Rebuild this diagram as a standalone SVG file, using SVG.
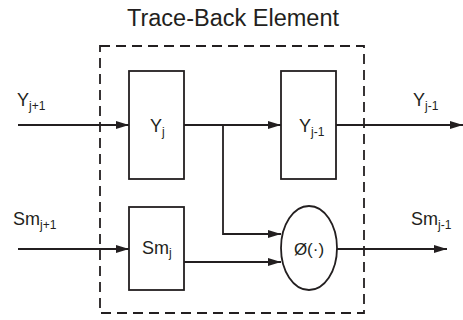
<svg xmlns="http://www.w3.org/2000/svg" width="463" height="320" viewBox="0 0 463 320">
<defs>
<marker id="ah" markerWidth="13" markerHeight="8" refX="13" refY="4" orient="auto" markerUnits="userSpaceOnUse">
<path d="M0,0 L13,4 L0,8 Z" fill="#231f20"/>
</marker>
<style>
.t{font-family:"Liberation Sans",Arial,sans-serif;fill:#231f20}
.lbl{font-size:18px}
.sub{font-size:12px}
.box{fill:#fff;stroke:#231f20;stroke-width:1.8}
.ln{fill:none;stroke:#231f20;stroke-width:1.8}
.arr{fill:none;stroke:#231f20;stroke-width:1.8;marker-end:url(#ah)}
</style>
</defs>
<rect width="463" height="320" fill="#fff"/>
<text class="t" x="233" y="26" font-size="23.5" text-anchor="middle">Trace-Back Element</text>
<g id="boundary">
<rect x="100" y="46" width="264" height="267" fill="none" stroke="#231f20" stroke-width="1.8" stroke-dasharray="10,6"/>
</g>
<g id="connectors">
<line class="arr" x1="18" y1="125" x2="129" y2="125"/>
<line class="arr" x1="184" y1="125" x2="281" y2="125"/>
<line class="arr" x1="336" y1="125" x2="463" y2="125"/>
<polyline class="arr" points="223,125 223,234 281,234"/>
<line class="arr" x1="18" y1="249" x2="129" y2="249"/>
<line class="arr" x1="184" y1="262" x2="281" y2="262"/>
<line class="arr" x1="337" y1="249" x2="447" y2="249"/>
</g>
<g id="Yj">
<rect class="box" x="129" y="71" width="55" height="108"/>
<text class="t lbl" x="150" y="132">Y<tspan class="sub" dy="4">j</tspan></text>
</g>
<g id="Yj-1">
<rect class="box" x="281" y="71" width="55" height="108"/>
<text class="t lbl" x="299" y="132">Y<tspan class="sub" dy="4">j-1</tspan></text>
</g>
<g id="Smj">
<rect class="box" x="129" y="207" width="55" height="83"/>
<text class="t lbl" x="142" y="254">Sm<tspan class="sub" dy="3">j</tspan></text>
</g>
<g id="phi">
<ellipse class="box" cx="309" cy="248" rx="28" ry="42"/>
<text class="t" x="309" y="255" font-size="17" text-anchor="middle">Ø(·)</text>
</g>
<g id="labels">
<text class="t lbl" x="17" y="106">Y<tspan class="sub" dy="4">j+1</tspan></text>
<text class="t lbl" x="413" y="106">Y<tspan class="sub" dy="4">j-1</tspan></text>
<text class="t lbl" x="13" y="225">Sm<tspan class="sub" dy="4">j+1</tspan></text>
<text class="t lbl" x="411" y="225">Sm<tspan class="sub" dy="4">j-1</tspan></text>
</g>
</svg>
